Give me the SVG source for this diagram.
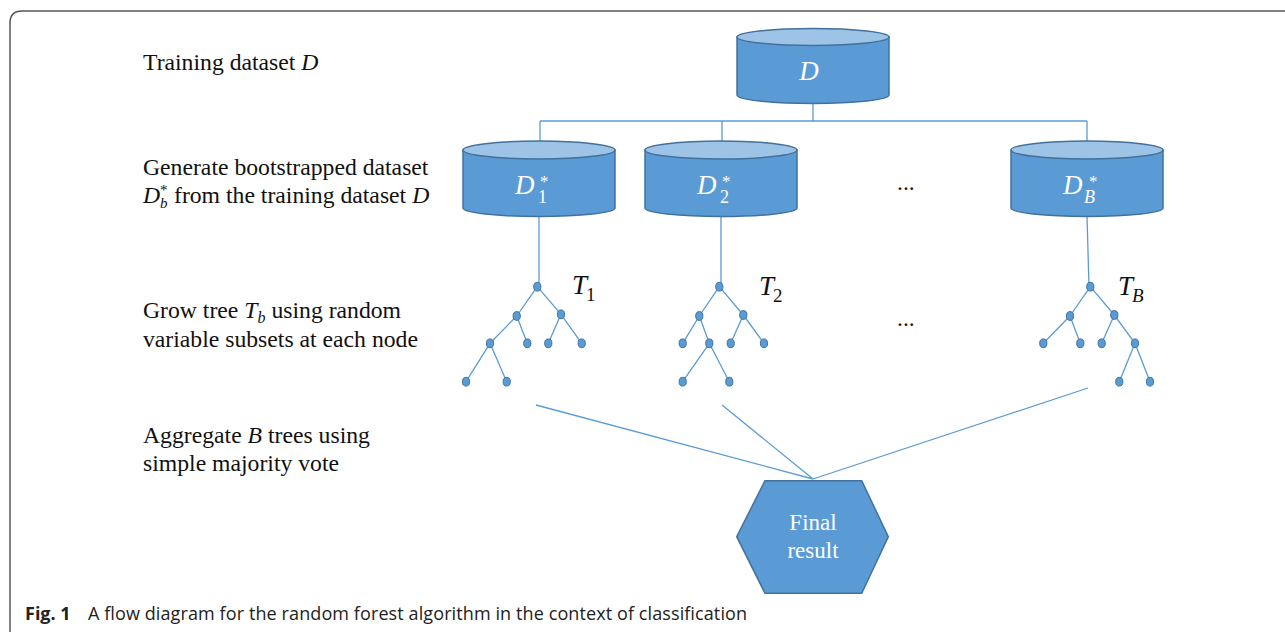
<svg xmlns="http://www.w3.org/2000/svg" width="1285" height="632" viewBox="0 0 1285 632">
<style>
.lbl{font-family:"Liberation Serif","Times New Roman",serif;font-size:23.7px;fill:#111}
.m{font-style:italic}
.cyl-body{fill:#5B9BD5;stroke:#41719C;stroke-width:1.5}
.cyl-top{fill:#9DC3E6;stroke:#41719C;stroke-width:1.5}
.ct{font-family:"Liberation Serif","Times New Roman",serif;fill:#fff}
.conn{stroke:#5B9BD5;stroke-width:1.3;fill:none}
.tn{fill:#5B9BD5;stroke:#41719C;stroke-width:1}
.tl{font-family:"Liberation Serif","Times New Roman",serif;font-size:27px;fill:#111}
.cap{font-family:"Open Sans","Noto Sans",sans-serif;font-size:18px;fill:#222}
</style>
<rect width="1285" height="632" fill="#fff"/>
<path d="M10,632 V23 Q10,11 22,11 H1285" fill="none" stroke="#555" stroke-width="1.5"/>

<g id="labels">
<text class="lbl" x="143" y="70">Training dataset <tspan class="m">D</tspan></text>
<text class="lbl" x="143" y="175">Generate bootstrapped dataset</text>
<text class="lbl" x="143" y="203"><tspan class="m">D</tspan><tspan class="m" font-size="15" x="160" y="208">b</tspan><tspan font-size="15" x="160" y="195">*</tspan><tspan x="174" y="203">from the training dataset </tspan><tspan class="m">D</tspan></text>
<text class="lbl" x="143" y="318">Grow tree <tspan class="m">T</tspan><tspan class="m" font-size="16" dy="5">b</tspan><tspan dy="-5"> using random</tspan></text>
<text class="lbl" x="143" y="347">variable subsets at each node</text>
<text class="lbl" x="143" y="443">Aggregate <tspan class="m">B</tspan> trees using</text>
<text class="lbl" x="143" y="471">simple majority vote</text>
<text class="lbl" x="897" y="190">...</text>
<text class="lbl" x="897" y="326">...</text>
</g>

<g id="connectors">
<path class="conn" d="M813,103 V121 M540,121 H1087 M540,121 V141 M722,121 V141 M1087,121 V141"/>
<path class="conn" d="M539,216 V287 M721,216 V287 M1087,216 L1089,287"/>
<path class="conn" d="M536,405 L813,479 M722,405 L813,479 M1088,388 L813,479"/>
</g>

<g id="node-D">
<path class="cyl-body" d="M737,37 V95 A76,8.5 0 0 0 889,95 V37 Z"/>
<ellipse class="cyl-top" cx="813" cy="37" rx="76" ry="8.5"/>
<text class="ct m" x="809" y="80" font-size="27" text-anchor="middle">D</text>
</g>

<g id="node-D1">
<path class="cyl-body" d="M463,150 V208 A76,8.5 0 0 0 615,208 V150 Z"/>
<ellipse class="cyl-top" cx="539" cy="150" rx="76" ry="9"/>
<text class="ct" x="515" y="194" font-size="27"><tspan class="m">D</tspan><tspan font-size="18" x="538" y="203">1</tspan><tspan font-size="17" x="540" y="187">*</tspan></text>
</g>

<g id="node-D2">
<path class="cyl-body" d="M645,150 V208 A76,8.5 0 0 0 797,208 V150 Z"/>
<ellipse class="cyl-top" cx="721" cy="150" rx="76" ry="9"/>
<text class="ct" x="697" y="194" font-size="27"><tspan class="m">D</tspan><tspan font-size="18" x="720" y="203">2</tspan><tspan font-size="17" x="722" y="187">*</tspan></text>
</g>

<g id="node-DB">
<path class="cyl-body" d="M1011,150 V208 A76,8.5 0 0 0 1163,208 V150 Z"/>
<ellipse class="cyl-top" cx="1087" cy="150" rx="76" ry="9"/>
<text class="ct" x="1063" y="194" font-size="27"><tspan class="m">D</tspan><tspan class="m" font-size="18" x="1084" y="203">B</tspan><tspan font-size="17" x="1089" y="187">*</tspan></text>
</g>

<g id="tree-T1">
<path class="conn" stroke-width="1" d="M537.3,286.7 L516.7,316 M537.3,286.7 L561,314.3 M516.7,316 L490,343.3 M516.7,316 L527.3,343.3 M561,314.3 L548.3,343.3 M561,314.3 L581.7,343.3 M490,343.3 L466,381.7 M490,343.3 L506.7,381.7"/>
<ellipse class="tn" cx="537.3" cy="286.7" rx="3.6" ry="4.4"/>
<ellipse class="tn" cx="516.7" cy="316" rx="3.6" ry="4.4"/>
<ellipse class="tn" cx="561" cy="314.3" rx="3.6" ry="4.4"/>
<ellipse class="tn" cx="490" cy="343.3" rx="3.6" ry="4.4"/>
<ellipse class="tn" cx="527.3" cy="343.3" rx="3.6" ry="4.4"/>
<ellipse class="tn" cx="548.3" cy="343.3" rx="3.6" ry="4.4"/>
<ellipse class="tn" cx="581.7" cy="343.3" rx="3.6" ry="4.4"/>
<ellipse class="tn" cx="466" cy="381.7" rx="3.6" ry="4.4"/>
<ellipse class="tn" cx="506.7" cy="381.7" rx="3.6" ry="4.4"/>
<text class="tl" x="572" y="294"><tspan class="m">T</tspan><tspan font-size="19" x="586" y="301">1</tspan></text>
</g>

<g id="tree-T2">
<path class="conn" stroke-width="1" d="M719.3,286.7 L699.3,316 M719.3,286.7 L743.3,315 M699.3,316 L682.7,343.3 M699.3,316 L709.3,343.3 M743.3,315 L730.7,343.3 M743.3,315 L764,343.3 M709.3,343.3 L682.7,381.7 M709.3,343.3 L729.3,381.7"/>
<ellipse class="tn" cx="719.3" cy="286.7" rx="3.6" ry="4.4"/>
<ellipse class="tn" cx="699.3" cy="316" rx="3.6" ry="4.4"/>
<ellipse class="tn" cx="743.3" cy="315" rx="3.6" ry="4.4"/>
<ellipse class="tn" cx="682.7" cy="343.3" rx="3.6" ry="4.4"/>
<ellipse class="tn" cx="709.3" cy="343.3" rx="3.6" ry="4.4"/>
<ellipse class="tn" cx="730.7" cy="343.3" rx="3.6" ry="4.4"/>
<ellipse class="tn" cx="764" cy="343.3" rx="3.6" ry="4.4"/>
<ellipse class="tn" cx="682.7" cy="381.7" rx="3.6" ry="4.4"/>
<ellipse class="tn" cx="729.3" cy="381.7" rx="3.6" ry="4.4"/>
<text class="tl" x="759" y="295"><tspan class="m">T</tspan><tspan font-size="19" x="773" y="302">2</tspan></text>
</g>

<g id="tree-TB">
<path class="conn" stroke-width="1" d="M1090.3,286.7 L1070,316 M1090.3,286.7 L1114.3,315 M1070,316 L1043.3,343.3 M1070,316 L1080.3,343.3 M1114.3,315 L1101.7,343.3 M1114.3,315 L1135,343.3 M1135,343.3 L1119.3,381.7 M1135,343.3 L1150,381.7"/>
<ellipse class="tn" cx="1090.3" cy="286.7" rx="3.6" ry="4.4"/>
<ellipse class="tn" cx="1070" cy="316" rx="3.6" ry="4.4"/>
<ellipse class="tn" cx="1114.3" cy="315" rx="3.6" ry="4.4"/>
<ellipse class="tn" cx="1043.3" cy="343.3" rx="3.6" ry="4.4"/>
<ellipse class="tn" cx="1080.3" cy="343.3" rx="3.6" ry="4.4"/>
<ellipse class="tn" cx="1101.7" cy="343.3" rx="3.6" ry="4.4"/>
<ellipse class="tn" cx="1135" cy="343.3" rx="3.6" ry="4.4"/>
<ellipse class="tn" cx="1119.3" cy="381.7" rx="3.6" ry="4.4"/>
<ellipse class="tn" cx="1150" cy="381.7" rx="3.6" ry="4.4"/>
<text class="tl" x="1118" y="295"><tspan class="m">T</tspan><tspan class="m" font-size="19" x="1132" y="302">B</tspan></text>
</g>

<g id="node-final">
<polygon points="765,480.7 861.7,480.7 888.3,536.7 861.7,593.3 765,593.3 736.7,536.7" fill="#5B9BD5" stroke="#41719C" stroke-width="1.5"/>
<text class="ct" x="813" y="530" font-size="23" text-anchor="middle">Final</text>
<text class="ct" x="813" y="558" font-size="23" text-anchor="middle">result</text>
</g>

<g id="caption">
<text class="cap" x="25" y="620" font-weight="bold" font-size="18.5">Fig. 1</text>
<text class="cap" x="88" y="620" textLength="659" lengthAdjust="spacing">A flow diagram for the random forest algorithm in the context of classification</text>
</g>
</svg>
